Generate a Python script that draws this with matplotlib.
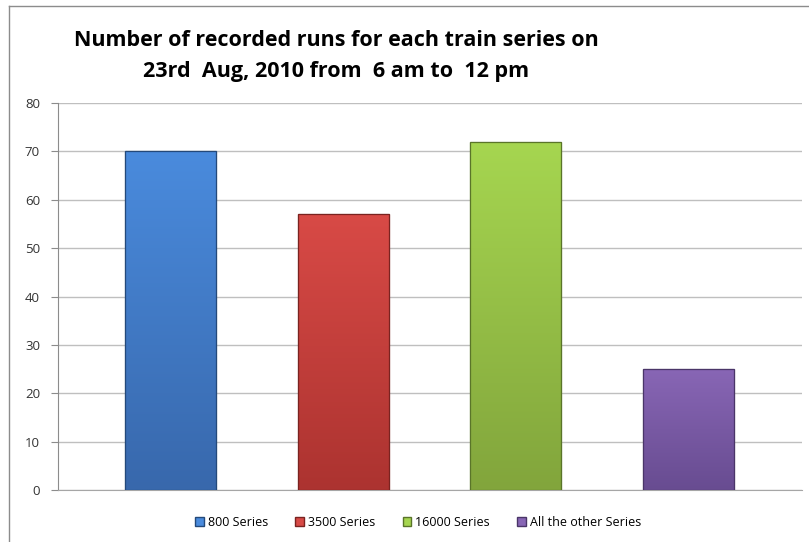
import matplotlib
matplotlib.use("Agg")
import matplotlib.pyplot as plt
import matplotlib.colors as mcolors
from matplotlib.patches import Rectangle, Patch
from matplotlib.lines import Line2D
import numpy as np

categories = ["800 Series", "3500 Series", "16000 Series", "All the other Series"]
values = [70, 57, 72, 25]
colors_top = ["#4A8BDD", "#D84A46", "#A6D650", "#8866B5"]
colors_bot = ["#3868AC", "#AC3330", "#82A53C", "#684C91"]
edge_colors = ["#24497A", "#7A2320", "#5A7529", "#4A3568"]
yticks = [0, 10, 20, 30, 40, 50, 60, 70, 80]
title = "Number of recorded runs for each train series on\n23rd  Aug, 2010 from  6 am to  12 pm"

plt.rcParams['font.family'] = ['Open Sans', 'DejaVu Sans']

W, H = 809, 542
fig = plt.figure(figsize=(W / 100, H / 100), dpi=100)
fig.patch.set_facecolor("white")

# outer chart border (only top and left visible)
fig.lines.append(Line2D([8.5 / W, 1.0], [1 - 5.5 / H, 1 - 5.5 / H], transform=fig.transFigure,
                        color="#8C8C8C", linewidth=1.0))
fig.lines.append(Line2D([8.5 / W, 8.5 / W], [0, 1 - 5.5 / H], transform=fig.transFigure,
                        color="#8C8C8C", linewidth=1.0))

left, right = 58 / W, 802 / W
bottom, top = 1 - 490 / H, 1 - 103 / H
ax = fig.add_axes([left, bottom, right - left, top - bottom])

x = np.arange(len(categories))
bw = 0.527
bars = ax.bar(x, values, width=bw, color=colors_top, edgecolor=edge_colors, linewidth=0.8, zorder=3)

# vertical gradient fill clipped to each bar
for b, ct, cb in zip(bars, colors_top, colors_bot):
    c1 = np.array(mcolors.to_rgb(ct))
    c2 = np.array(mcolors.to_rgb(cb))
    t = np.linspace(0, 1, 256)[:, None]
    grad = (c1[None, :] * (1 - t) + c2[None, :] * t)[:, None, :]
    x0, y0 = b.get_x(), b.get_y()
    w, h = b.get_width(), b.get_height()
    im = ax.imshow(grad, extent=[x0, x0 + w, y0, y0 + h], origin="upper",
                   aspect="auto", zorder=3.5, interpolation="bilinear")
    im.set_clip_path(b)
    ax.add_patch(Rectangle((x0, y0), w, h, fill=False, edgecolor=b.get_edgecolor(),
                           linewidth=0.9, zorder=4))

ax.set_xlim(-0.651, 3.657)
ax.set_ylim(0, 80)
ax.set_yticks(yticks)
ax.set_yticklabels([str(v) for v in yticks], fontsize=9.5, color="#333333")
ax.set_xticks([])
ax.yaxis.grid(True, color="#BFBFBF", linewidth=1.0, zorder=0)
ax.set_axisbelow(True)
for s in ["top", "right"]:
    ax.spines[s].set_visible(False)
ax.spines["left"].set_color("#8C8C8C")
ax.spines["bottom"].set_color("#A6A6A6")
ax.tick_params(axis="y", length=5, color="#8C8C8C", pad=8)

fig.text(336 / W, 1 - 56 / H, title, ha="center", va="center", fontsize=15.5,
         fontweight="bold", linespacing=1.6, color="black",
         family=["Open Sans", "DejaVu Sans"])

handles = [Patch(facecolor=ct, edgecolor=ec) for ct, ec in zip(colors_top, edge_colors)]
fig.legend(handles, categories, loc="center", bbox_to_anchor=(418 / W, 1 - 522 / H),
           ncol=4, frameon=False, fontsize=9, handlelength=0.7, handleheight=0.7,
           handletextpad=0.3, columnspacing=2.2)

fig.savefig("out.png", dpi=100, facecolor="white")
